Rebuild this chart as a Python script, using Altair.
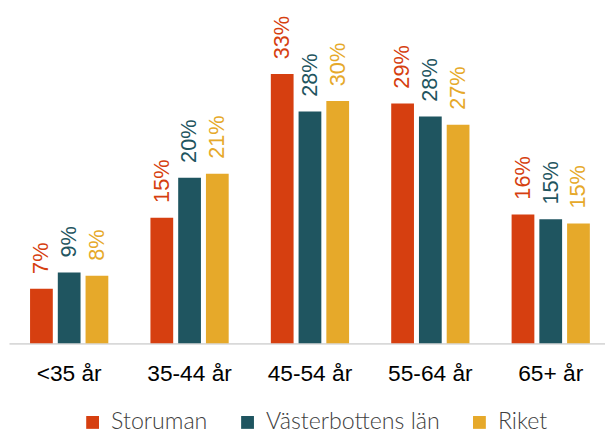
import altair as alt
import pandas as pd

categories = ["<35 år", "35-44 år", "45-54 år", "55-64 år", "65+ år"]
series = ["Storuman", "Västerbottens län", "Riket"]
storuman = [6.7, 15.4, 33.0, 29.4, 15.8]
vasterbotten = [8.7, 20.3, 28.4, 27.8, 15.2]
riket = [8.3, 20.8, 29.7, 26.8, 14.7]
colors = ["#D63F10", "#1F5560", "#E6A92A"]

rows = []
for name, vals in zip(series, [storuman, vasterbotten, riket]):
    for c, v in zip(categories, vals):
        rows.append({"cat": c, "series": name, "value": v})
df = pd.DataFrame(rows)

x = alt.X("cat:N", sort=categories, title=None,
          scale=alt.Scale(range=[0, 610], paddingInner=0.35, paddingOuter=0.175),
          axis=alt.Axis(labelAngle=0, ticks=False, domainColor="#D9D9D9", domainWidth=2,
                        labelFont="Liberation Sans", labelFontSize=23, labelColor="#000000",
                        labelPadding=20))
xo = alt.XOffset("series:N", sort=series, scale=alt.Scale(paddingInner=0.18))
y = alt.Y("value:Q", scale=alt.Scale(domain=[0, 40.75]), axis=None)
color = alt.Color("series:N", sort=series,
                  scale=alt.Scale(domain=series, range=colors),
                  legend=alt.Legend(title=None, orient="none", legendX=73, legendY=405,
                                    direction="horizontal",
                                    symbolType="square", symbolSize=169, symbolStrokeWidth=0,
                                    labelFont="Lato", labelFontWeight=300, labelFontSize=23.5,
                                    labelColor="#404040", labelLimit=400,
                                    columnPadding=28, symbolOffset=0, labelOffset=7))

base = alt.Chart(df)
bars = base.mark_bar().encode(x=x, xOffset=xo, y=y, color=color)
labels = base.transform_calculate(
    label="format(datum.value / 100, '.0%')"
).mark_text(angle=270, align="left", baseline="middle", dx=15,
            font="Liberation Sans", fontSize=22).encode(
    x=x, xOffset=xo, y=y, text="label:N",
    color=alt.Color("series:N", sort=series, scale=alt.Scale(domain=series, range=colors), legend=None))

chart = alt.layer(bars, labels).properties(
    width=604, height=337,
    autosize=alt.AutoSizeParams(type="none"),
    padding={"left": 1, "top": 0, "right": 0, "bottom": 91},
).configure_view(stroke=None)

chart.save("out.html", embed_options={"renderer": "svg", "actions": False})
